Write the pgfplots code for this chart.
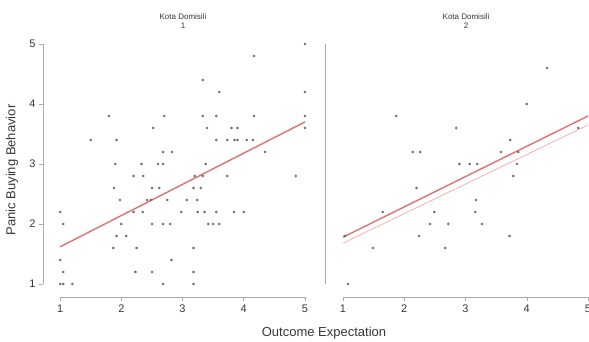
\documentclass[border=0pt]{standalone}
\usepackage{fontspec}
\setmainfont{Liberation Sans}
\usepackage{pgfplots}
\pgfplotsset{compat=1.18}
\definecolor{ptc}{RGB}{110,110,110}
\definecolor{reg}{RGB}{200,95,95}
\definecolor{halo}{RGB}{246,205,205}
\definecolor{reg2}{RGB}{240,170,170}
\definecolor{axc}{RGB}{170,170,170}
\definecolor{tl}{RGB}{55,55,55}
\pgfplotsset{panel/.style={scale only axis, anchor=south west, height=259pt,
  ymin=0.783, ymax=5.1, axis x line*=bottom, axis y line*=left,
  axis line style={draw=none}, xtick={1,2,3,4,5}, ytick={1,2,3,4,5},
  tick align=outside, major tick length=4pt, tick style={axc, line width=0.5pt},
  ticklabel style={font=\fontsize{11}{12}\selectfont, text=tl},
  /pgf/number format/assume math mode=true, clip=false}}
\pgfplotstableread{
x y
5.0 5.0
4.17 4.8
3.33 4.4
3.6 4.2
5.0 4.2
1.8 3.8
2.7 3.8
3.33 3.8
3.55 3.8
4.17 3.8
5.0 3.8
2.52 3.6
3.4 3.6
3.8 3.6
3.9 3.6
5.0 3.6
1.5 3.4
1.92 3.4
3.55 3.4
3.73 3.4
3.85 3.4
3.9 3.4
4.05 3.4
4.15 3.4
2.68 3.2
2.83 3.2
4.35 3.2
1.9 3.0
2.33 3.0
2.6 3.0
2.68 3.0
3.38 3.0
2.2 2.8
2.36 2.8
3.2 2.8
3.33 2.8
3.73 2.8
4.85 2.8
1.88 2.6
2.5 2.6
2.62 2.6
3.18 2.6
3.3 2.6
1.98 2.4
2.42 2.4
2.48 2.4
2.75 2.4
3.07 2.4
3.24 2.4
1.0 2.2
2.2 2.2
2.35 2.2
2.98 2.2
3.25 2.2
3.36 2.2
3.55 2.2
3.84 2.2
4.0 2.2
1.05 2.0
2.0 2.0
2.5 2.0
2.68 2.0
2.8 2.0
3.42 2.0
3.5 2.0
3.6 2.0
1.92 1.8
2.08 1.8
1.87 1.6
2.25 1.6
3.18 1.6
1.0 1.4
2.82 1.4
1.05 1.2
2.23 1.2
2.5 1.2
3.18 1.2
1.0 1.0
1.05 1.0
1.2 1.0
2.68 1.0
3.18 1.0
}\dataA
\pgfplotstableread{
x y
1.87 3.8
2.85 3.6
4.84 3.6
4.33 4.6
4.0 4.0
2.14 3.2
2.26 3.2
3.73 3.4
3.58 3.2
3.86 3.2
2.9 3.0
3.07 3.0
3.19 3.0
3.84 3.0
3.78 2.8
2.2 2.6
3.17 2.4
1.65 2.2
2.49 2.2
3.16 2.2
2.42 2.0
2.72 2.0
3.27 2.0
1.03 1.8
2.24 1.8
3.72 1.8
1.49 1.6
2.67 1.6
1.08 1.0
}\dataB
\begin{document}
\begin{tikzpicture}[x=1pt,y=1pt]
\begin{axis}[panel, at={(43pt,44pt)}, width=268pt, xmin=0.72, xmax=5.1]
\addplot[halo, line width=2.2pt] coordinates {(1,1.62) (5,3.70)};
\addplot[reg, line width=0.8pt] coordinates {(1,1.62) (5,3.70)};
\addplot[only marks, mark=*, mark size=1.1pt, ptc] table[x=x,y=y] {\dataA};
\draw[axc, line width=0.6pt] (axis cs:1,0.783)--(axis cs:5,0.783);
\draw[axc, line width=0.6pt] (axis cs:0.72,1)--(axis cs:0.72,5);
\end{axis}
\begin{axis}[panel, at={(325pt,44pt)}, width=263pt, xmin=0.706, xmax=5.0, ytick=\empty]
\addplot[reg2, line width=0.7pt] coordinates {(1,1.68) (5,3.65)};
\addplot[halo, line width=2.2pt] coordinates {(1,1.78) (5,3.80)};
\addplot[reg, line width=0.8pt] coordinates {(1,1.78) (5,3.80)};
\addplot[only marks, mark=*, mark size=1.1pt, ptc] table[x=x,y=y] {\dataB};
\draw[axc, line width=0.6pt] (axis cs:1,0.783)--(axis cs:5,0.783);
\draw[axc, line width=0.6pt] (axis cs:0.706,1)--(axis cs:0.706,5);
\end{axis}
\node[font=\fontsize{8}{9}\selectfont, align=center, text=tl] at (183,320) {Kota Domisili\\1};
\node[font=\fontsize{8}{9}\selectfont, align=center, text=tl] at (466,320) {Kota Domisili\\2};
\node[font=\fontsize{13}{15}\selectfont, text=tl] at (324,8) {Outcome Expectation};
\node[font=\fontsize{13}{15}\selectfont, text=tl, rotate=90] at (12,171) {Panic Buying Behavior};
\pgfresetboundingbox
\path[use as bounding box] (0,0) rectangle (589,341);
\end{tikzpicture}
\end{document}
